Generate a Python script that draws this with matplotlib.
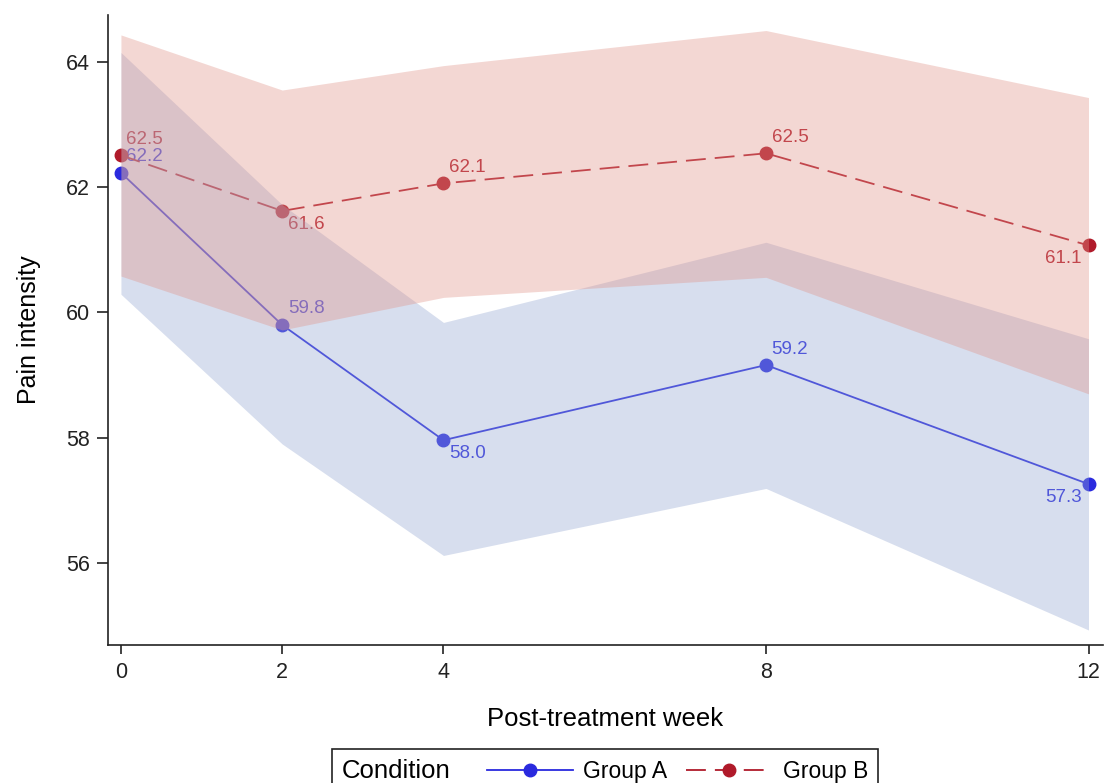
import matplotlib.pyplot as plt
from matplotlib.offsetbox import HPacker

plt.rcParams['font.family'] = ['Liberation Sans', 'DejaVu Sans']

weeks = [0, 2, 4, 8, 12]

# Group A: mean and 95% band
a_mean = [62.23, 59.80, 57.96, 59.16, 57.26]
a_lo = [60.29, 57.90, 56.12, 57.19, 54.93]
a_hi = [64.15, 61.72, 59.84, 61.12, 59.58]
a_pos = ['ur', 'ur', 'lr', 'ur', 'll']

# Group B
b_mean = [62.51, 61.62, 62.06, 62.54, 61.07]
b_lo = [60.58, 59.72, 60.24, 60.56, 58.70]
b_hi = [64.43, 63.55, 63.94, 64.50, 63.43]
b_pos = ['ur', 'lr', 'ur', 'ur', 'll']

blue = '#2a2ade'
red = '#b01a2a'
blue_band = (147/255, 166/255, 209/255)
red_band = (225/255, 147/255, 136/255)

offsets = {'ur': ((4, 11.5), 'left'), 'lr': ((4, -9.5), 'left'), 'll': ((-5, -9.5), 'right')}

fig = plt.figure(figsize=(11.07, 7.83), dpi=100)
ax = fig.add_axes([0.0976, 0.1762, 0.8988, 0.8048])


def draw_group(mean, pos, color, ls, label):
    line, = ax.plot(weeks, mean, color=color, lw=1.3, ls=ls, marker='o', ms=9,
                    label=label, zorder=2)
    if ls == '--':
        line.set_dashes((11, 5))
    for x, y, p in zip(weeks, mean, pos):
        off, ha = offsets[p]
        ax.annotate(f"{y:.1f}", (x, y), xytext=off, textcoords='offset points',
                    ha=ha, va='center', fontsize=13.5, color=color, zorder=2)
    return line


la = draw_group(a_mean, a_pos, blue, '-', 'Group A')
lb = draw_group(b_mean, b_pos, red, '--', 'Group B')

# bands go over the lines, like the original
ax.fill_between(weeks, a_lo, a_hi, color=blue_band, alpha=0.37, lw=0, zorder=3)
ax.fill_between(weeks, b_lo, b_hi, color=red_band, alpha=0.37, lw=0, zorder=3)

ax.set_xlim(-0.16, 12.18)
ax.set_ylim(54.69, 64.75)
ax.set_xticks(weeks)
ax.set_yticks([56, 58, 60, 62, 64])
for s in ['top', 'right']:
    ax.spines[s].set_visible(False)
for s in ['left', 'bottom']:
    ax.spines[s].set_linewidth(1.2)
    ax.spines[s].set_color('#222222')
ax.tick_params(width=1.2, labelsize=15.5, colors='#222222')
ax.tick_params(axis='y', length=8, pad=5)
ax.tick_params(axis='x', length=6.5, pad=6)
ax.set_xlabel('Post-treatment week', fontsize=18.5, labelpad=17)
ax.set_ylabel('Pain intensity', fontsize=18, labelpad=18)

leg = fig.legend(handles=[la, lb], loc='upper center', bbox_to_anchor=(0.5465, 0.0434),
                 ncol=2, title='Condition', title_fontsize=18.5, fontsize=16.5,
                 frameon=True, fancybox=False, edgecolor='#222222', framealpha=1,
                 handlelength=3.75, handletextpad=0.45, columnspacing=0.83,
                 borderpad=0.44, borderaxespad=0)
leg.get_frame().set_linewidth(1.2)
# put the title to the left of the entries
fs = leg._fontsize
leg._legend_box = HPacker(pad=leg.borderpad * fs, sep=26, align='center',
                          children=[leg._legend_title_box, leg._legend_handle_box])
leg._legend_box.set_figure(fig)
leg._legend_box.set_offset(leg._findoffset)

fig.savefig('out.png', dpi=100)
